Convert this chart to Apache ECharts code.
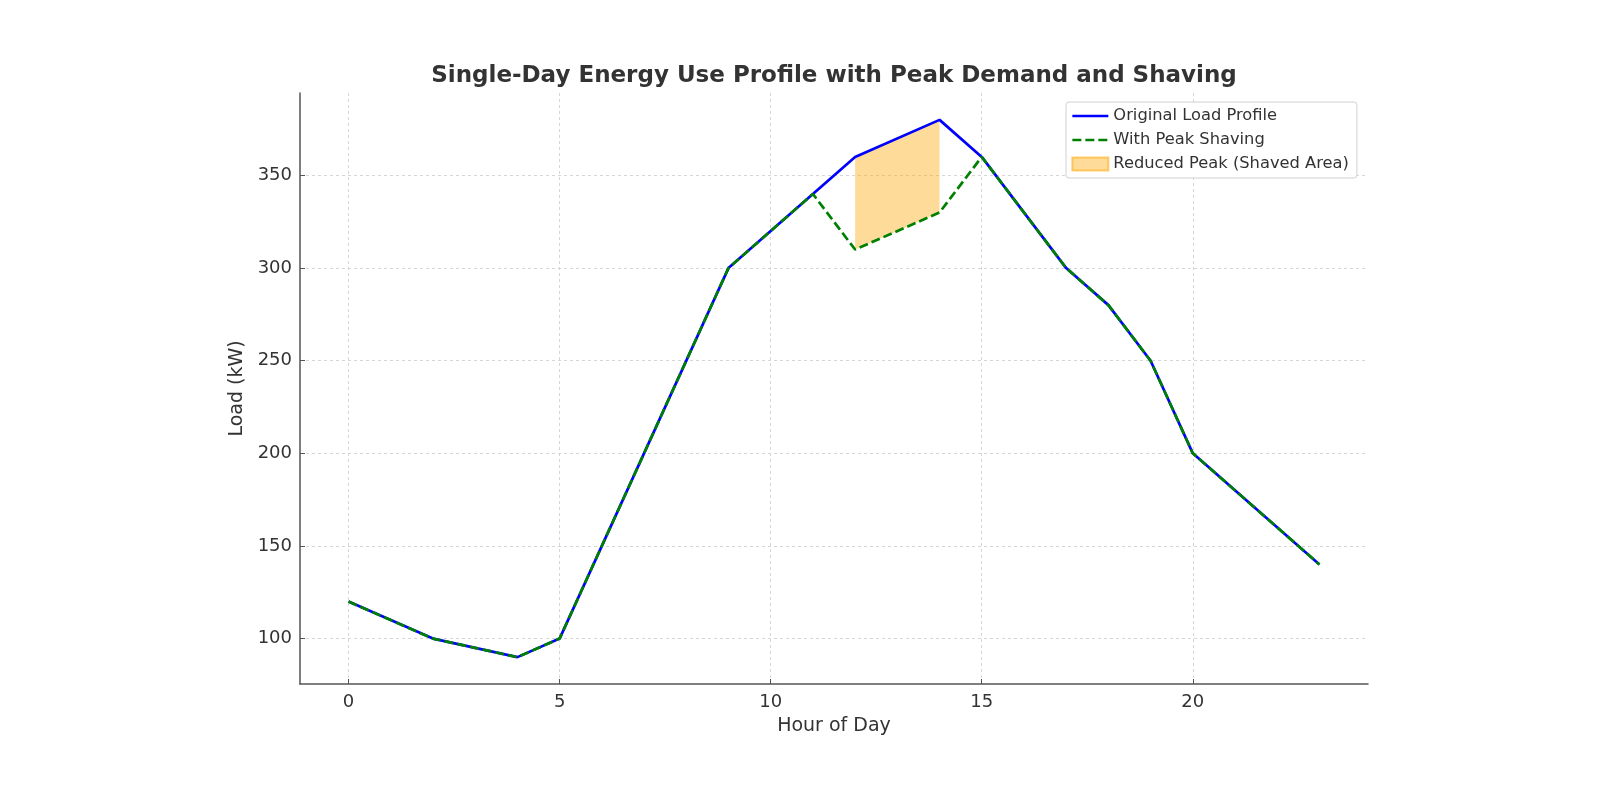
<!DOCTYPE html>
<html>
<head>
<meta charset="utf-8">
<title>Single-Day Energy Use Profile</title>
<script src="https://cdn.jsdelivr.net/npm/echarts@6/dist/echarts.min.js"></script>
<style>
  html, body { margin: 0; padding: 0; background: #fff; }
  #chart { width: 1600px; height: 800px; }
</style>
</head>
<body>
<div id="chart"></div>
<script>
// vertices of the load curves
var hours = [0, 2, 4, 5, 9, 11, 12, 14, 15, 17, 18, 19, 20, 23];
var originalLoad = [120, 100, 90, 100, 300, 340, 360, 380, 360, 300, 280, 250, 200, 140];
var shavedLoad = [120, 100, 90, 100, 300, 340, 310, 330, 360, 300, 280, 250, 200, 140];
// shaved window
var shaveHours = [12, 14];
var shaveTop = [360, 380];
var shaveBottom = [310, 330];
var xTicks = [0, 5, 10, 15, 20];
var yTicks = [100, 150, 200, 250, 300, 350];

function pairs(xs, ys) {
    return xs.map(function (x, i) { return [x, ys[i]]; });
}

var font = 'DejaVu Sans';
var chart = echarts.init(document.getElementById('chart'));

// hide the symbol ECharts puts in line legend icons
var noSymbol = { color: 'rgba(0,0,0,0)', borderColor: 'rgba(0,0,0,0)', borderWidth: 0, opacity: 0 };

var option = {
    animation: false,
    textStyle: { fontFamily: font },
    title: {
        text: 'Single-Day Energy Use Profile with Peak Demand and Shaving',
        left: 829,
        textAlign: 'center',
        top: 60,
        textStyle: { fontFamily: font, fontSize: 23, fontWeight: 'bold', color: '#333' }
    },
    legend: {
        left: 1066,
        top: 102,
        orient: 'vertical',
        itemGap: 8,
        itemWidth: 36,
        itemHeight: 13,
        padding: [6, 8, 6, 5],
        borderColor: '#d0d0d0',
        borderWidth: 1,
        borderRadius: 3,
        backgroundColor: '#fff',
        textStyle: { fontFamily: font, fontSize: 16.3, color: '#333' },
        data: [
            { name: 'Original Load Profile', itemStyle: noSymbol, lineStyle: { width: 2.7 } },
            { name: 'With Peak Shaving', itemStyle: noSymbol, lineStyle: { width: 2.7 } },
            { name: 'Reduced Peak (Shaved Area)', icon: 'rect' }
        ]
    },
    grid: { left: 300, right: 232, top: 93, bottom: 116, containLabel: false },
    xAxis: {
        type: 'value',
        min: -1.15,
        max: 24.15,
        name: 'Hour of Day',
        nameLocation: 'middle',
        nameGap: 33,
        nameTextStyle: { fontFamily: font, fontSize: 19, color: '#333' },
        axisLine: { show: true, onZero: false, lineStyle: { color: '#555', width: 1.5 } },
        axisTick: { show: true, inside: true, length: 5, customValues: xTicks, lineStyle: { color: '#555' } },
        axisLabel: { customValues: xTicks, fontFamily: font, fontSize: 18, color: '#333', margin: 9 },
        splitLine: { show: true, customValues: xTicks, lineStyle: { color: '#d6d6d6', type: [3, 3], width: 1 } }
    },
    yAxis: {
        type: 'value',
        min: 75.5,
        max: 394.5,
        name: 'Load (kW)',
        nameLocation: 'middle',
        nameGap: 52,
        nameTextStyle: { fontFamily: font, fontSize: 19, color: '#333' },
        axisLine: { show: true, onZero: false, lineStyle: { color: '#555', width: 1.5 } },
        axisTick: { show: true, inside: true, length: 5, customValues: yTicks, lineStyle: { color: '#555' } },
        axisLabel: { customValues: yTicks, fontFamily: font, fontSize: 18, color: '#333', margin: 8 },
        splitLine: { show: true, customValues: yTicks, lineStyle: { color: '#d6d6d6', type: [3, 3], width: 1 } }
    },
    series: [
        {
            name: 'Reduced Peak (Shaved Area)',
            type: 'custom',
            z: 1,
            itemStyle: { color: 'rgba(255,165,0,0.4)', borderColor: 'rgba(255,165,0,0.55)', borderWidth: 1 },
            data: [[shaveHours[0], shaveTop[0], shaveBottom[0], shaveHours[1], shaveTop[1], shaveBottom[1]]],
            encode: { x: [0, 3], y: [1, 2, 4, 5] },
            renderItem: function (params, api) {
                var p1 = api.coord([api.value(0), api.value(1)]);
                var p2 = api.coord([api.value(3), api.value(4)]);
                var p3 = api.coord([api.value(3), api.value(5)]);
                var p4 = api.coord([api.value(0), api.value(2)]);
                return {
                    type: 'polygon',
                    shape: { points: [p1, p2, p3, p4] },
                    style: { fill: 'rgba(255,165,0,0.4)' }
                };
            }
        },
        {
            name: 'Original Load Profile',
            type: 'line',
            z: 3,
            symbol: 'none',
            data: pairs(hours, originalLoad),
            lineStyle: { color: '#0000ff', width: 2.7 },
            itemStyle: { color: '#0000ff' }
        },
        {
            name: 'With Peak Shaving',
            type: 'line',
            z: 4,
            symbol: 'none',
            data: pairs(hours, shavedLoad),
            lineStyle: { color: '#008000', width: 2.7, type: [9, 4] },
            itemStyle: { color: '#008000' }
        }
    ]
};

chart.setOption(option);
</script>
</body>
</html>
